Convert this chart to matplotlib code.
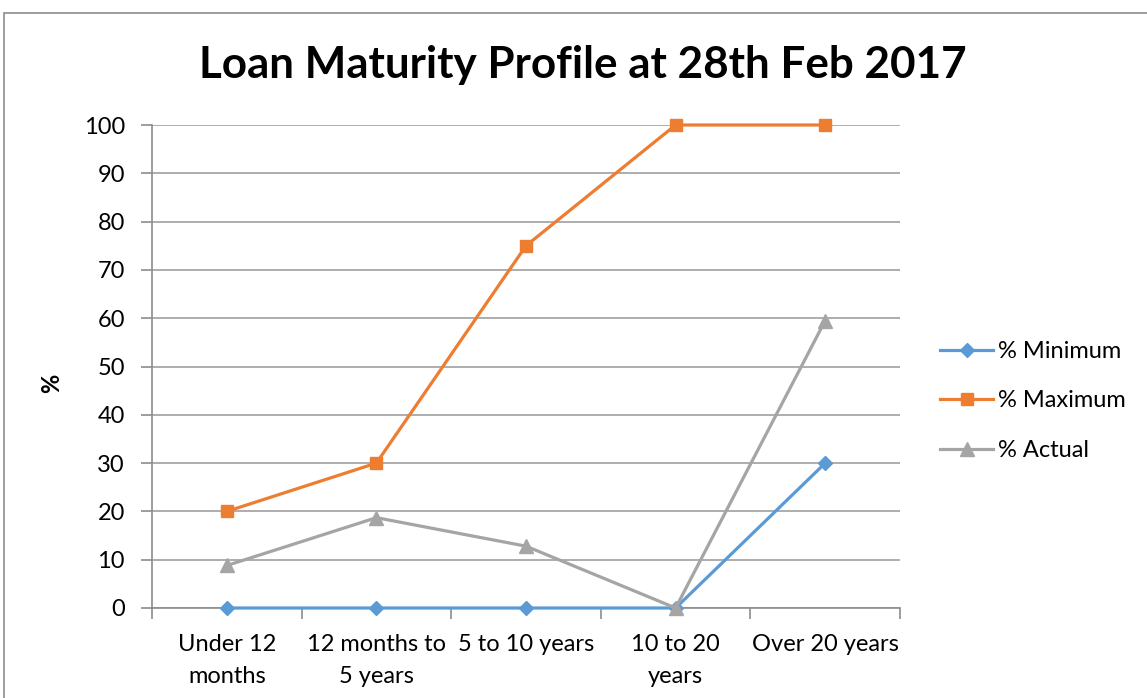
import matplotlib
matplotlib.use("Agg")
import matplotlib.pyplot as plt
from matplotlib.patches import Rectangle

categories = ["Under 12\nmonths", "12 months to\n5 years", "5 to 10 years", "10 to 20\nyears", "Over 20 years"]
minimum = [0, 0, 0, 0, 30]
maximum = [20, 30, 75, 100, 100]
actual = [8.8, 18.7, 12.8, 0, 59.5]
yticks = list(range(0, 101, 10))

plt.rcParams['font.family'] = ['Lato', 'DejaVu Sans']

W, H = 1147, 698
fig = plt.figure(figsize=(W / 100, H / 100), dpi=100)
fig.patch.set_facecolor('white')
fig.patches.append(Rectangle((4 / W, -0.1), 1.2, 1 - 13 / H + 0.1, transform=fig.transFigure,
                             fill=False, edgecolor='#8c8c8c', linewidth=1.2))

ax = fig.add_axes([152 / W, 1 - 608 / H, (900 - 152) / W, (608 - 125) / H])
x = list(range(len(categories)))
ax.plot(x, minimum, color='#5B9BD5', lw=2.3, marker='D', ms=7, label='% Minimum', zorder=3, clip_on=False)
ax.plot(x, maximum, color='#ED7D31', lw=2.3, marker='s', ms=8.5, label='% Maximum', zorder=3, clip_on=False)
ax.plot(x, actual, color='#A5A5A5', lw=2.3, marker='^', ms=9.5, label='% Actual', zorder=3, clip_on=False)

ax.set_xlim(-0.5, len(categories) - 0.5)
ax.set_ylim(0, 100)
ax.set_yticks(yticks)
ax.set_yticklabels([str(v) for v in yticks], fontsize=17, color='#000000')
ax.set_xticks(x)
ax.set_xticklabels(categories, fontsize=17, color='#000000', linespacing=1.6)
ax.set_xticks([i - 0.5 for i in range(len(categories) + 1)], minor=True)
ax.tick_params(axis='x', which='major', length=0, pad=19)
ax.tick_params(axis='x', which='minor', length=8, color='#8c8c8c', width=1.2)
ax.tick_params(axis='y', length=8, color='#8c8c8c', width=1.2, pad=11.5)
ax.grid(axis='y', color='#a0a0a0', lw=1.2)
ax.set_axisbelow(True)
for s in ['top', 'right']:
    ax.spines[s].set_visible(False)
for s in ['left', 'bottom']:
    ax.spines[s].set_color('#8c8c8c')
    ax.spines[s].set_linewidth(1.2)

ax.set_ylabel('%', fontsize=17, fontweight='bold')
ax.yaxis.set_label_coords(63 / W, 1 - 383 / H, transform=fig.transFigure)
fig.text(583 / W, 1 - 65 / H, 'Loan Maturity Profile at 28th Feb 2017', ha='center', va='center',
         fontsize=31.7, fontweight='bold')

leg = ax.legend(loc='center left', bbox_to_anchor=(919 / W, 1 - 401 / H), bbox_transform=fig.transFigure,
                frameon=False, fontsize=17, handlelength=2.25, handletextpad=0.2, labelspacing=1.2)

fig.savefig('out.png', dpi=100)
